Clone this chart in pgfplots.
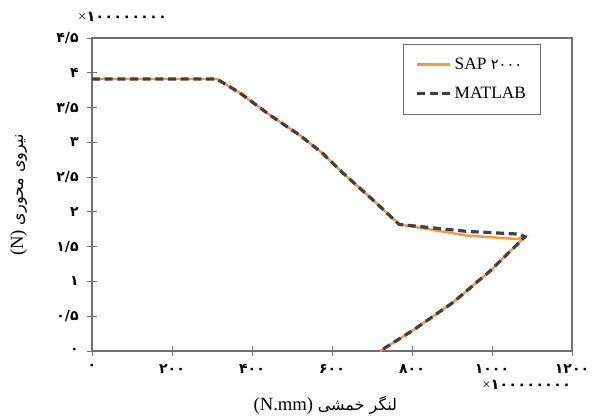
\documentclass[border=0pt]{standalone}
\usepackage{fontspec}
\setmainfont{Liberation Serif}
\newfontfamily\arabicfont[Script=Arabic]{DejaVu Sans}
\TeXXeTstate=1
\usepackage{pgfplots}
\pgfplotsset{compat=1.18}

\definecolor{sapor}{HTML}{F79646}
\definecolor{matgr}{HTML}{404040}
\definecolor{axgr}{HTML}{6E6E6E}

\begin{document}
\begin{tikzpicture}
\begin{axis}[
    name=ax,
    scale only axis,
    width=360pt, height=234.75pt,
    xmin=0, xmax=1200,
    ymin=0, ymax=4.5,
    xtick={0,200,400,600,800,1000,1200},
    xticklabels={{۰},{۲۰۰},{۴۰۰},{۶۰۰},{۸۰۰},{۱۰۰۰},{۱۲۰۰}},
    ytick={0,0.5,1,1.5,2,2.5,3,3.5,4,4.5},
    yticklabels={{۰},{۰/۵},{۱},{۱/۵},{۲},{۲/۵},{۳},{۳/۵},{۴},{۴/۵}},
    ticklabel style={font=\arabicfont\bfseries\fontsize{10.5}{12}\selectfont},
    xtick pos=bottom, ytick pos=left,
    tick align=center,
    major tick length=7pt,
    axis line style={axgr, line width=0.8pt},
    tick style={axgr, line width=0.6pt},
    xticklabel style={yshift=-3pt},
    yticklabel style={xshift=-3pt},
    legend style={at={(0.648,0.981)}, anchor=north west, draw=axgr,
        line width=0.6pt, font=\fontsize{13}{15}\selectfont,
        inner xsep=9pt, inner ysep=8pt, row sep=8pt},
    legend cell align=left,
    legend image code/.code={\draw[#1] (0cm,0cm) -- (25pt,0cm);},
]
\addplot[sapor, line width=1.8pt] coordinates {
    (0,3.91) (312,3.91) (370,3.71) (445,3.39) (520,3.10) (577,2.84)
    (627,2.56) (695,2.21) (768,1.82) (937,1.66) (1062,1.61) (1082,1.64)
    (995,1.15) (903,0.70) (803,0.30) (720,0)
};
\addlegendentry{SAP {\arabicfont\fontsize{11}{13}\selectfont ۲۰۰۰}}
\addplot[matgr, line width=2.4pt, dash pattern=on 6pt off 3.5pt] coordinates {
    (0,3.91) (312,3.91) (370,3.71) (445,3.39) (520,3.10) (577,2.84)
    (627,2.56) (695,2.21) (768,1.82) (937,1.72) (1070,1.68) (1082,1.64)
    (995,1.15) (903,0.70) (803,0.30) (720,0)
};
\addlegendentry{MATLAB}
\end{axis}
\node[font=\fontsize{11}{13}\selectfont] at ([xshift=23pt,yshift=15.5pt]ax.north west) {×{\arabicfont\bfseries ۱۰۰۰۰۰۰۰۰}};
\node[font=\fontsize{11}{13}\selectfont] at ([xshift=326pt,yshift=-25.5pt]ax.south west) {×{\arabicfont\bfseries ۱۰۰۰۰۰۰۰۰}};
\node[font=\fontsize{14}{16}\selectfont] at ([xshift=175pt,yshift=-40.5pt]ax.south west) {(N.mm) {\arabicfont\fontsize{12}{14}\selectfont\beginR لنگر خمشی\endR}};
\node[font=\fontsize{14}{16}\selectfont, rotate=90] at ([xshift=-55pt,yshift=117pt]ax.south west) {(N) {\arabicfont\fontsize{12}{14}\selectfont\beginR نیروی محوری\endR}};
\pgfresetboundingbox
\path[use as bounding box] ([xshift=-69pt,yshift=-51pt]ax.south west) rectangle ([xshift=379.5pt,yshift=263.25pt]ax.south west);
\end{tikzpicture}
\end{document}
